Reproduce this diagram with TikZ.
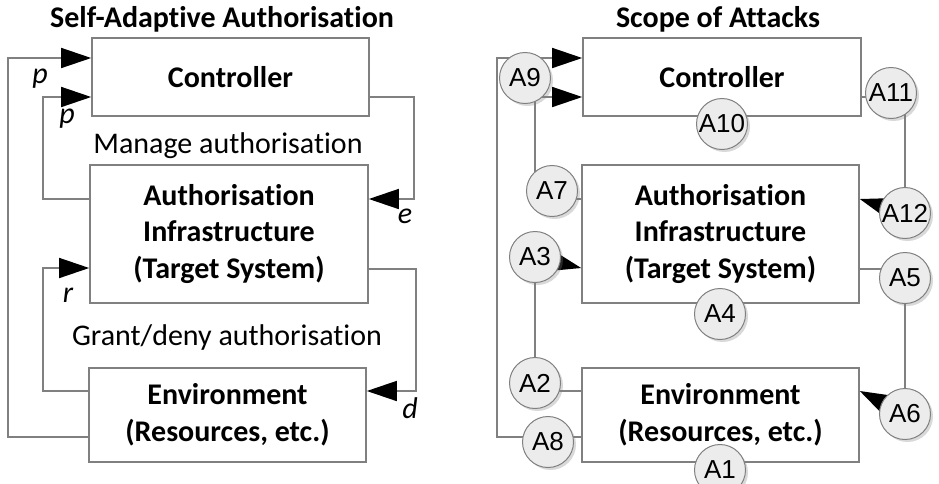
\documentclass[tikz,border=0pt]{standalone}
\usepackage{fontspec}
\setmainfont[Ligatures=NoCommon]{Carlito}
\newfontfamily\arialfont{Liberation Sans}
\usetikzlibrary{arrows.meta,shadows}
\definecolor{linegray}{RGB}{128,128,128}
\definecolor{circfill}{RGB}{236,236,236}
\begin{document}
\begin{tikzpicture}[x=1pt,y=-1pt,
  every node/.style={font=\fontsize{30}{36.6}\selectfont, inner sep=0pt},
  box/.style={draw=linegray, line width=1.6pt, fill=white, align=center, font=\fontsize{30}{36.6}\selectfont\bfseries},
  conn/.style={draw=linegray, line width=1.5pt},
  tip/.style={-{Triangle[length=30pt,width=20pt,color=black]}},
  atk/.style={circle, draw=linegray, line width=1pt, fill=circfill, minimum size=51pt,
    font=\arialfont\fontsize{26}{26}\selectfont,
    drop shadow={shadow xshift=2.5pt, shadow yshift=-2.5pt, opacity=0.3, fill=black!50}},
  lbl/.style={font=\fontsize{30}{36}\selectfont\itshape, anchor=base},
  txt/.style={font=\fontsize{30}{36}\selectfont, anchor=base},
  ttl/.style={font=\fontsize{30}{36}\selectfont\bfseries, anchor=base},
]
\useasboundingbox (0,0) rectangle (939,483);

% ---------------- Left panel ----------------
\node[ttl] (titleL) at (222,27) {Self-Adaptive Authorisation};
\node[box, minimum width=277pt, minimum height=78pt] (ctrlL) at (230.5,77) {Controller};
\node[box, minimum width=278pt, minimum height=138pt] (aiL) at (229,234) {Authorisation\\Infrastructure\\(Target System)};
\node[box, minimum width=277pt, minimum height=94pt] (envL) at (227.5,415) {Environment\\(Resources, etc.)};

\node[txt] (manage) at (228,153) {Manage authorisation};
\node[txt] (grant) at (227,345) {Grant/deny authorisation};

\coordinate (lo1) at (8,437);
\coordinate (lo2) at (8,58);
\coordinate (li1) at (43,199);
\coordinate (li2) at (43,97);
\coordinate (lr1) at (43,391);
\coordinate (lr2) at (43,268);
\coordinate (le1) at (414,97);
\coordinate (le2) at (414,199);
\coordinate (ld1) at (416,269);
\coordinate (ld2) at (416,391);

\draw[conn,tip] (envL.west |- lo1) -- (lo1) -- (lo2) -- (ctrlL.west |- lo2);
\draw[conn,tip] (aiL.west |- li1) -- (li1) -- (li2) -- (ctrlL.west |- li2);
\draw[conn,tip] (envL.west |- lr1) -- (lr1) -- (lr2) -- (aiL.west |- lr2);
\draw[conn,tip] (ctrlL.east |- le1) -- (le1) -- (le2) -- (aiL.east |- le2);
\draw[conn,tip] (aiL.east |- ld1) -- (ld1) -- (ld2) -- (envL.east |- ld2);

\node[lbl] (p1) at (40,83) {p};
\node[lbl] (p2) at (67,123) {p};
\node[lbl] (e) at (405,223) {e};
\node[lbl] (r) at (68,302) {r};
\node[lbl] (d) at (410,418) {d};

% ---------------- Right panel ----------------
\node[ttl] (titleR) at (718,27) {Scope of Attacks};
\node[box, minimum width=278pt, minimum height=78pt] (ctrlR) at (722,77) {Controller};
\node[box, minimum width=277pt, minimum height=138pt] (aiR) at (720.5,234) {Authorisation\\Infrastructure\\(Target System)};
\node[box, minimum width=277pt, minimum height=94pt] (envR) at (720.5,415) {Environment\\(Resources, etc.)};

\coordinate (ro1) at (497,437);
\coordinate (ro2) at (497,58);
\coordinate (ri1) at (535,199);
\coordinate (ri2) at (535,97);
\coordinate (rr1) at (535,391);
\coordinate (rr2) at (535,257);
\coordinate (re1) at (905,97);
\coordinate (re2) at (905,213);
\coordinate (rd1) at (905,269);
\coordinate (rd2) at (905,414);

\draw[conn,tip] (envR.west |- ro1) -- (ro1) -- (ro2) -- (ctrlR.west |- ro2);
\draw[conn,tip] (aiR.west |- ri1) -- (ri1) -- (ri2) -- (ctrlR.west |- ri2);
\draw[conn] (envR.west |- rr1) -- (rr1) -- (rr2);
\draw[conn,tip] (rr2) -- (aiR.west |- 0,268);
\draw[conn] (ctrlR.east |- re1) -- (re1) -- (re2);
\draw[conn,tip] (re2) -- (aiR.east |- 0,199);
\draw[conn] (aiR.east |- rd1) -- (rd1) -- (rd2);
\draw[conn,tip] (rd2) -- (envR.east |- 0,391);

\node[atk] (a9) at (525,78) {A9};
\node[atk] (a10) at (722,124) {A10};
\node[atk] (a11) at (891,93) {A11};
\node[atk] (a7) at (552,191) {A7};
\node[atk] (a12) at (905,213) {A12};
\node[atk] (a3) at (535,257) {A3};
\node[atk] (a5) at (905,278) {A5};
\node[atk] (a4) at (720,314) {A4};
\node[atk] (a2) at (535,383) {A2};
\node[atk] (a8) at (548,442) {A8};
\node[atk] (a6) at (905,414) {A6};
\node[atk] (a1) at (720,470) {A1};
\end{tikzpicture}
\end{document}
